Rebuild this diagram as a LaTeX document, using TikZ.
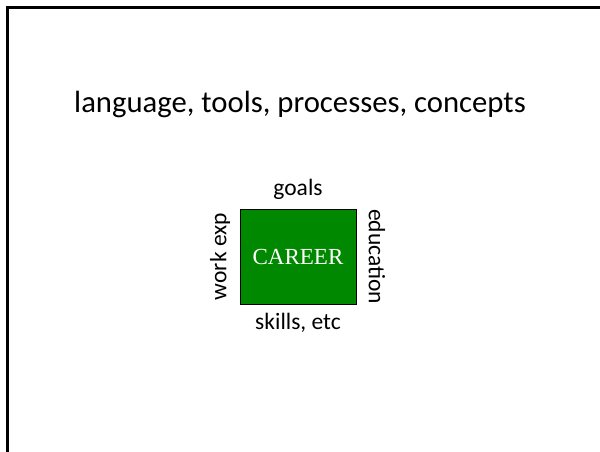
\documentclass[tikz,border=0pt]{standalone}
\usepackage{fontspec}
\setmainfont{Carlito}
\newfontfamily\timesfont{Liberation Serif}
\definecolor{careergreen}{RGB}{0,136,0}
\begin{document}
\begin{tikzpicture}[x=1pt,y=-1pt,
  lbl/.style={font=\fontsize{23.5}{26}\selectfont, inner sep=0pt, anchor=center},
  careerbox/.style={draw=black, line width=1pt, fill=careergreen, minimum width=116pt, minimum height=95pt, inner sep=0pt, text=white, font=\timesfont\fontsize{23}{25}\selectfont}]
\useasboundingbox (0,0) rectangle (600,452);
\clip (0,0) rectangle (600,452);
\draw[line width=3pt] (7,470) -- (7,8) -- (620,8);
\node[font=\fontsize{30.7}{34}\selectfont, inner sep=0pt] (title) at (300,104) {language, tools, processes, concepts};
\node[careerbox] (career) at (298,256.5) {CAREER};
\node[lbl] (goals) at (298,189) {goals};
\node[lbl] (skills) at (298,323) {skills, etc};
\node[lbl, rotate=90] (work) at (220,256.5) {work exp};
\node[lbl, rotate=-90] (edu) at (377,256.5) {education};
\end{tikzpicture}
\end{document}
